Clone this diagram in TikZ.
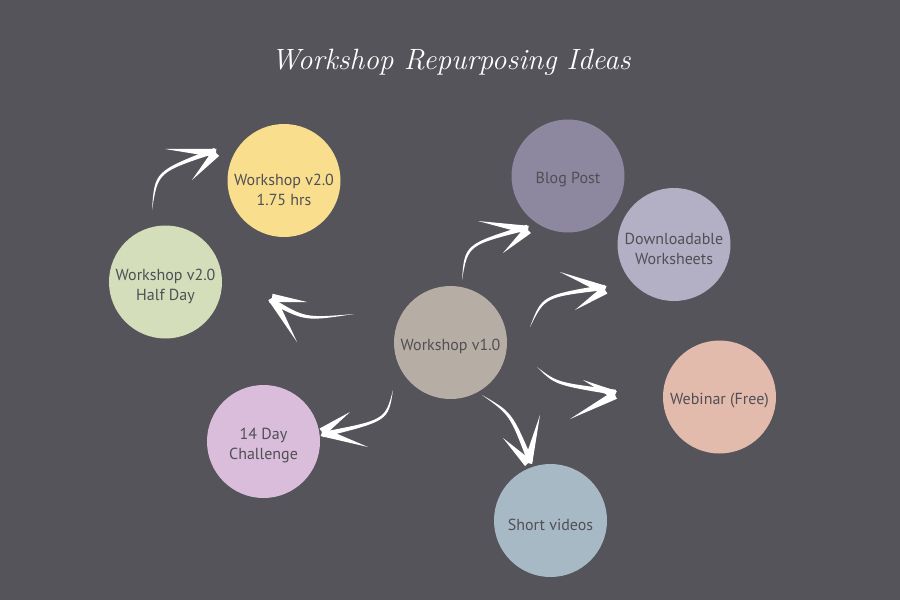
\documentclass[tikz,border=0pt]{standalone}
\usepackage{fontspec}
\setsansfont{PT Sans}
\usetikzlibrary{calc}
\definecolor{bgGray}{RGB}{85,84,90}
\definecolor{txtGray}{RGB}{80,79,85}
\definecolor{cYellow}{RGB}{249,223,141}
\definecolor{cGreen}{RGB}{212,222,187}
\definecolor{cTaupe}{RGB}{182,173,164}
\definecolor{cBlog}{RGB}{141,135,159}
\definecolor{cDown}{RGB}{179,176,197}
\definecolor{cWebinar}{RGB}{226,187,172}
\definecolor{cVideo}{RGB}{168,185,198}
\definecolor{cChallenge}{RGB}{217,189,219}
\tikzset{
  bubble/.style={circle, minimum size=84.75pt, inner sep=0pt},
  btext/.style={align=center, text=txtGray, inner sep=0pt, yshift=-3pt,
    font=\sffamily\fontsize{12}{15}\selectfont},
}
% brush arrow: tail, control, tip, barb one, barb two
\newcommand{\brusharrow}[5]{%
  \fill[white] (#1) .. controls (#2) .. (#3) -- ($(#3)!4pt!90:(#2)$) .. controls ($(#2)!2.6pt!90:(#1)$) .. (#1) -- cycle;
  \fill[white] (#4) -- ($(#3)!3.2pt!90:(#4)$) -- ($(#3)!3.2pt!-90:(#4)$) -- cycle;
  \fill[white] (#5) -- ($(#3)!3.2pt!90:(#5)$) -- ($(#3)!3.2pt!-90:(#5)$) -- cycle;
}
\begin{document}
\begin{tikzpicture}[x=0.75pt,y=0.75pt,yscale=-1,xscale=1]
	\fill[bgGray] (0,0) rectangle (900,600);
	\useasboundingbox (0,0) rectangle (900,600);

	% Title
	\node[text=white, font=\fontsize{22}{26}\selectfont\itshape] (title) at (451,62) {Workshop Repurposing Ideas};

	% Circles
	\node[bubble, fill=cTaupe, label={[btext]center:Workshop v1.0}] (wsOne) at (450.5,342.5) {};
	\node[bubble, fill=cYellow, label={[btext, yshift=-4pt]center:Workshop v2.0\\1.75 hrs}] (wsHours) at (284,180.5) {};
	\node[bubble, fill=cGreen, label={[btext]center:Workshop v2.0\\Half Day}] (wsHalf) at (165.5,282) {};
	\node[bubble, fill=cBlog, label={[btext]center:Blog Post}] (blog) at (568,176) {};
	\node[bubble, fill=cDown, label={[btext]center:Downloadable\\Worksheets}] (sheets) at (674,244.5) {};
	\node[bubble, fill=cWebinar, label={[btext]center:Webinar (Free)}] (webinar) at (719.5,397) {};
	\node[bubble, fill=cVideo, label={[btext]center:Short videos}] (videos) at (550.5,520.5) {};
	\node[bubble, fill=cChallenge, label={[btext]center:14 Day\\Challenge}] (challenge) at (263.5,441.5) {};

	% Arrows
	\brusharrow{152,210}{158,172}{216,153}{165,149}{192,180}
	\brusharrow{354,314}{305,318}{272,298}{307,302}{297,342}
	\brusharrow{462,280}{468,245}{528,230}{478,221}{503,253}
	\brusharrow{530,327}{545,297}{605,290}{560,272}{575,310}
	\brusharrow{537,367}{555,385}{615,395}{583,380}{570,419}
	\brusharrow{482,395}{510,415}{528,463}{503,438}{540,415}
	\brusharrow{393,390}{385,420}{322,432}{350,412}{368,447}
\end{tikzpicture}
\end{document}
